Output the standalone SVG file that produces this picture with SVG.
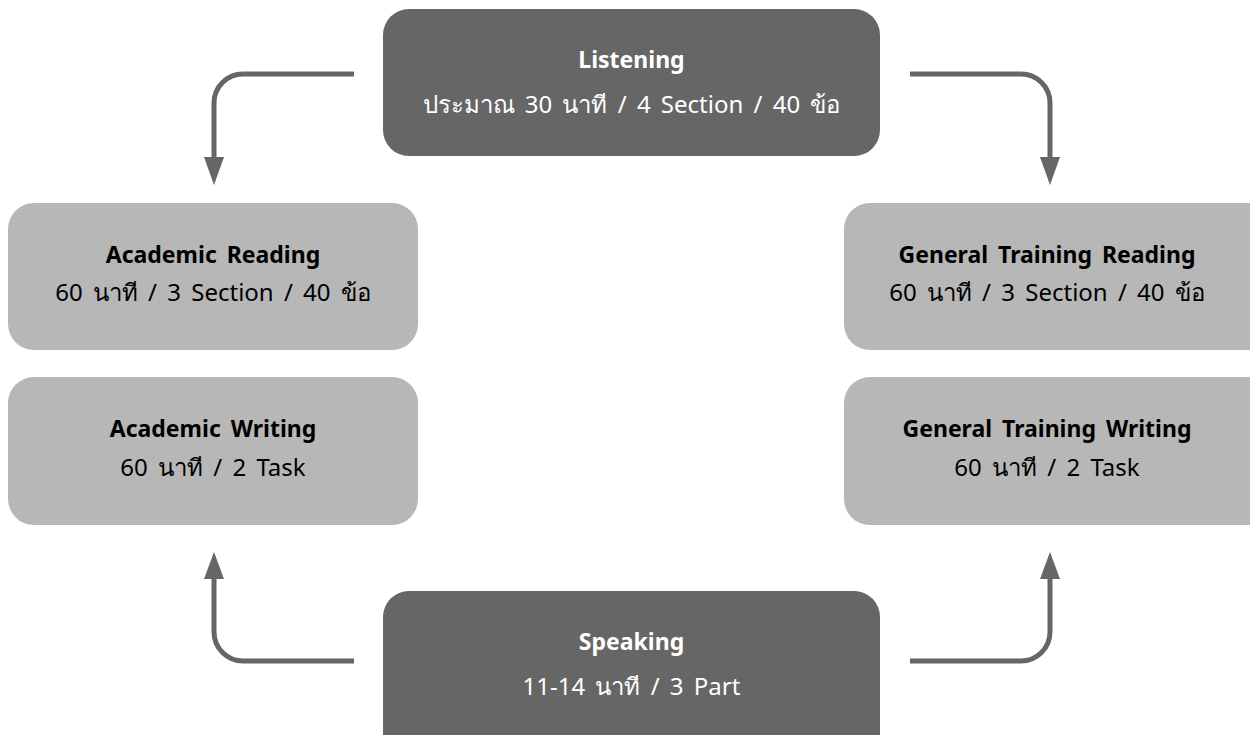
<svg xmlns="http://www.w3.org/2000/svg" width="1250" height="735" viewBox="0 0 1250 735">
<style>
.dark{fill:#666666}
.light{fill:#b7b7b7}
text{font-family:"Noto Sans","Open Sans","DejaVu Sans",sans-serif;text-anchor:middle;word-spacing:4px}
.t{font-size:23px;font-weight:bold}
.s{font-size:24px}
.w{fill:#ffffff}
.k{fill:#000000}
.c{fill:none;stroke:#666666;stroke-width:5}
.h{fill:#666666}
</style>
<rect width="1250" height="735" fill="#ffffff"/>
<g id="listening">
<rect class="dark" x="383" y="9" width="497" height="147" rx="26"/>
<text class="t w" x="631.5" y="68">Listening</text>
<text class="s w" x="631.5" y="113">ประมาณ 30 นาที / 4 Section / 40 ข้อ</text>
</g>
<g id="academic-reading">
<rect class="light" x="8" y="203" width="410" height="147" rx="26"/>
<text class="t k" x="213" y="263">Academic Reading</text>
<text class="s k" x="213" y="301">60 นาที / 3 Section / 40 ข้อ</text>
</g>
<g id="academic-writing">
<rect class="light" x="8" y="377" width="410" height="148" rx="26"/>
<text class="t k" x="213" y="437">Academic Writing</text>
<text class="s k" x="213" y="476">60 นาที / 2 Task</text>
</g>
<g id="gt-reading">
<rect class="light" x="844" y="203" width="430" height="147" rx="26"/>
<text class="t k" x="1047" y="263">General Training Reading</text>
<text class="s k" x="1047" y="301">60 นาที / 3 Section / 40 ข้อ</text>
</g>
<g id="gt-writing">
<rect class="light" x="844" y="377" width="430" height="148" rx="26"/>
<text class="t k" x="1047" y="437">General Training Writing</text>
<text class="s k" x="1047" y="476">60 นาที / 2 Task</text>
</g>
<g id="speaking">
<rect class="dark" x="383" y="591" width="497" height="170" rx="26"/>
<text class="t w" x="631.5" y="650">Speaking</text>
<text class="s w" x="631.5" y="695">11-14 นาที / 3 Part</text>
</g>
<g id="connectors">
<path class="c" d="M354 74 H243 A29 29 0 0 0 214 103 V160"/>
<polygon class="h" points="204,157 224,157 214,185"/>
<path class="c" d="M910 74 H1021 A29 29 0 0 1 1050 103 V160"/>
<polygon class="h" points="1040,157 1060,157 1050,185"/>
<path class="c" d="M354 661 H243 A29 29 0 0 1 214 632 V576"/>
<polygon class="h" points="204,579 224,579 214,552"/>
<path class="c" d="M910 661 H1021 A29 29 0 0 0 1050 632 V576"/>
<polygon class="h" points="1040,579 1060,579 1050,552"/>
</g>
</svg>
